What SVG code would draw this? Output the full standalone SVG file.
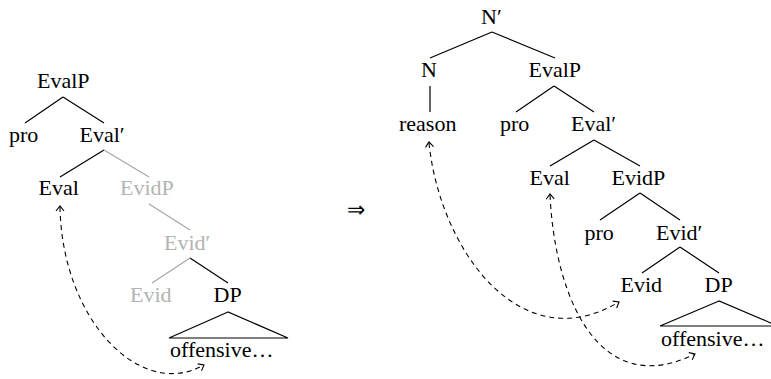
<svg xmlns="http://www.w3.org/2000/svg" width="771" height="379" viewBox="0 0 771 379">
<g id="left-tree">
<g id="l-evalp"><text x="37" y="88" font-family="Liberation Serif" font-size="22">EvalP</text></g>
<g id="l-pro"><text x="9" y="142" font-family="Liberation Serif" font-size="22">pro</text></g>
<g id="l-evalbar"><text x="79.5" y="142" font-family="Liberation Serif" font-size="22">Eval′</text></g>
<g id="l-eval"><text x="38.5" y="195" font-family="Liberation Serif" font-size="22">Eval</text></g>
<g id="l-evidp"><text x="120" y="195" font-family="Liberation Serif" font-size="22" fill="#b3b3b3">EvidP</text></g>
<g id="l-evidbar"><text x="164" y="250" font-family="Liberation Serif" font-size="22" fill="#b3b3b3">Evid′</text></g>
<g id="l-evid"><text x="130" y="302" font-family="Liberation Serif" font-size="22" fill="#b3b3b3">Evid</text></g>
<g id="l-dp"><text x="213.5" y="302" font-family="Liberation Serif" font-size="22">DP</text><path d="M228,312 L169,338 L288,338 Z" fill="none" stroke="#000" stroke-width="1.2"/></g>
<g id="l-off"><text x="170" y="357" font-family="Liberation Serif" font-size="22">offensive…</text></g>
</g>
<g id="right-tree">
<g id="r-nbar"><text x="481" y="24" font-family="Liberation Serif" font-size="22">N′</text></g>
<g id="r-n"><text x="421" y="77" font-family="Liberation Serif" font-size="22">N</text></g>
<g id="r-evalp"><text x="528.5" y="77" font-family="Liberation Serif" font-size="22">EvalP</text></g>
<g id="r-reason"><text x="399" y="131" font-family="Liberation Serif" font-size="22">reason</text></g>
<g id="r-pro1"><text x="500" y="131" font-family="Liberation Serif" font-size="22">pro</text></g>
<g id="r-evalbar"><text x="571" y="131" font-family="Liberation Serif" font-size="22">Eval′</text></g>
<g id="r-eval"><text x="529.5" y="185" font-family="Liberation Serif" font-size="22">Eval</text></g>
<g id="r-evidp"><text x="611.5" y="185" font-family="Liberation Serif" font-size="22">EvidP</text></g>
<g id="r-pro2"><text x="584.5" y="240" font-family="Liberation Serif" font-size="22">pro</text></g>
<g id="r-evidbar"><text x="656" y="240" font-family="Liberation Serif" font-size="22">Evid′</text></g>
<g id="r-evid"><text x="620.5" y="292" font-family="Liberation Serif" font-size="22">Evid</text></g>
<g id="r-dp"><text x="704.5" y="292" font-family="Liberation Serif" font-size="22">DP</text><path d="M719,301 L660,326 L778,326 Z" fill="none" stroke="#000" stroke-width="1.2"/></g>
<g id="r-off"><text x="661" y="346" font-family="Liberation Serif" font-size="22">offensive…</text></g>
</g>
<g id="implies"><text x="347" y="217" font-family="Liberation Serif" font-size="22">⇒</text></g>
<g id="connectors" fill="none" stroke-width="1.2">
<path stroke="#000" d="M63,97 L25,123 M63,97 L104,123 M104,150 L60,177 M190,258 L228,283"/>
<path stroke="#a6a6a6" d="M104,150 L149,177 M149,204 L190,230 M190,258 L152,283"/>
<path stroke="#000" d="M492,32 L430,58 M492,32 L555,58 M430,86 L430,112 M554,86 L516,112 M554,86 L594,112 M594,140 L550,166 M594,140 L640,166 M640,193 L600,220 M640,193 L680,220 M680,247 L642,273 M680,247 L719,273"/>
<g stroke="#000" stroke-width="1.1" stroke-dasharray="5 4">
<path d="M60,207 C62,320 140,400 203,365.5"/>
<path d="M429,143 C440,250 520,360 618,302.5"/>
<path d="M550,195 C555,300 600,400 694,354.5"/>
</g>
<g stroke="#000" stroke-width="1.1">
<path d="M56,211 L60,206 L64,211"/>
<path d="M201.5,370.9 L204,365 L197.7,363.9"/>
<path d="M425.5,147.4 L429,142 L433.5,146.6"/>
<path d="M616.7,308 L619,302 L612.7,301.1"/>
<path d="M546.2,199.2 L550,194 L554.2,198.8"/>
<path d="M692.2,359.8 L695,354 L688.8,352.6"/>
</g>
</g>
</svg>
